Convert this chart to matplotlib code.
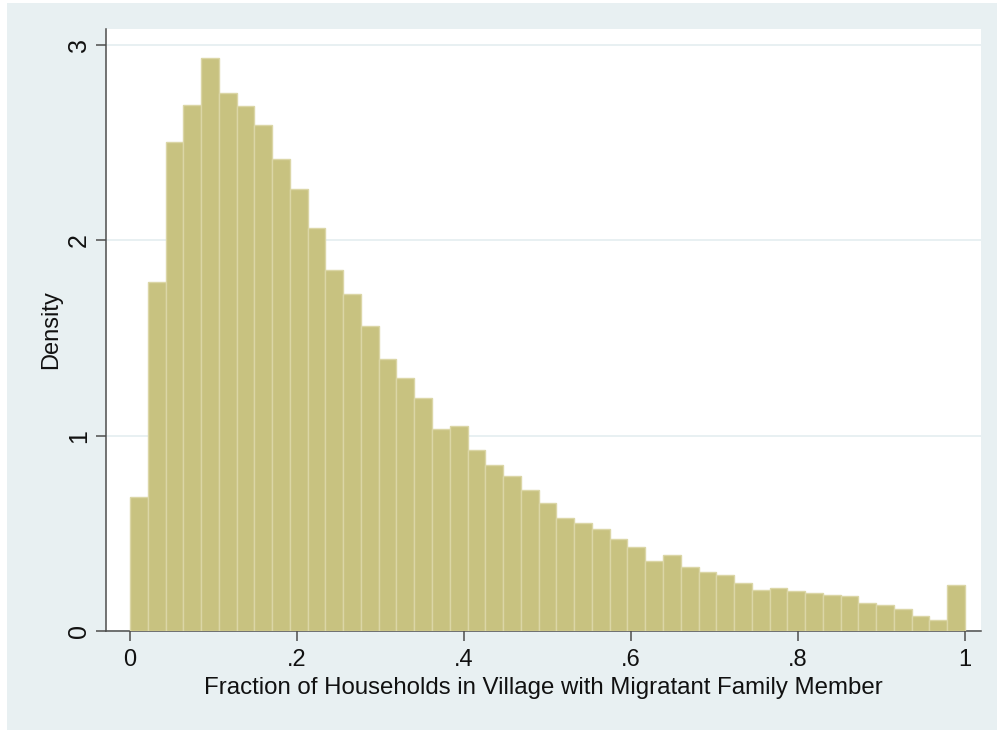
import numpy as np
import matplotlib
matplotlib.use('Agg')
import matplotlib.pyplot as plt
from matplotlib.patches import Rectangle

plt.rcParams['font.family'] = ['Liberation Sans', 'DejaVu Sans']

# histogram densities, 47 equal-width bins on [0, 1]
density = [0.684, 1.786, 2.504, 2.692, 2.935, 2.752, 2.689, 2.593, 2.419, 2.265,
           2.065, 1.850, 1.727, 1.563, 1.395, 1.296, 1.191, 1.034, 1.051, 0.927,
           0.851, 0.795, 0.721, 0.655, 0.581, 0.555, 0.521, 0.473, 0.431, 0.359,
           0.390, 0.330, 0.304, 0.287, 0.244, 0.212, 0.222, 0.203, 0.195, 0.186,
           0.178, 0.144, 0.133, 0.113, 0.079, 0.055, 0.236]
x_ticks = [0, 0.2, 0.4, 0.6, 0.8, 1]
x_ticklabels = ['0', '.2', '.4', '.6', '.8', '1']
y_ticks = [0, 1, 2, 3]

n_bins = len(density)
edges = np.linspace(0, 1, n_bins + 1)

W, H = 997, 730
fig = plt.figure(figsize=(W / 100, H / 100), dpi=100, facecolor='white')

# light grey graph region behind the plot area
fig.patches.append(Rectangle((7 / W, 0), 1 - 7 / W, 1 - 3 / H, transform=fig.transFigure,
                             facecolor='#e8f0f2', edgecolor='none', zorder=-10))

ax = fig.add_axes([106 / W, 1 - 631 / H, (981 - 106) / W, (631 - 29) / H])
ax.set_zorder(1)
ax.set_facecolor('white')

ax.bar(edges[:-1], density, width=edges[1] - edges[0], align='edge',
       color='#c8c280', edgecolor='#dbd6a6', linewidth=1.0, zorder=3)

ax.set_xlim(-24 / 835, 1 + 16 / 835)
ax.set_ylim(0, 3 + 16 / 195)

ax.set_xticks(x_ticks)
ax.set_xticklabels(x_ticklabels)
ax.set_yticks(y_ticks)
ax.set_yticklabels([str(v) for v in y_ticks], rotation=90, va='center')

ax.yaxis.grid(True, color='#e6eff1', linewidth=1.3, zorder=0)
ax.set_axisbelow(True)

for side in ['top', 'right']:
    ax.spines[side].set_visible(False)
for side in ['left', 'bottom']:
    ax.spines[side].set_color('#4d4d4d')
    ax.spines[side].set_linewidth(1.1)

ax.tick_params(axis='x', length=7, width=1.1, color='#4d4d4d', pad=6,
               labelsize=17, labelcolor='#111111')
ax.tick_params(axis='y', length=7, width=1.1, color='#4d4d4d', pad=4,
               labelsize=18, labelcolor='#111111')

ax.set_xlabel('Fraction of Households in Village with Migratant Family Member',
              fontsize=17.3, color='#111111', labelpad=4)
ax.set_ylabel('Density', fontsize=17, color='#111111', labelpad=3)

fig.savefig('out.png', dpi=100, facecolor='white')
